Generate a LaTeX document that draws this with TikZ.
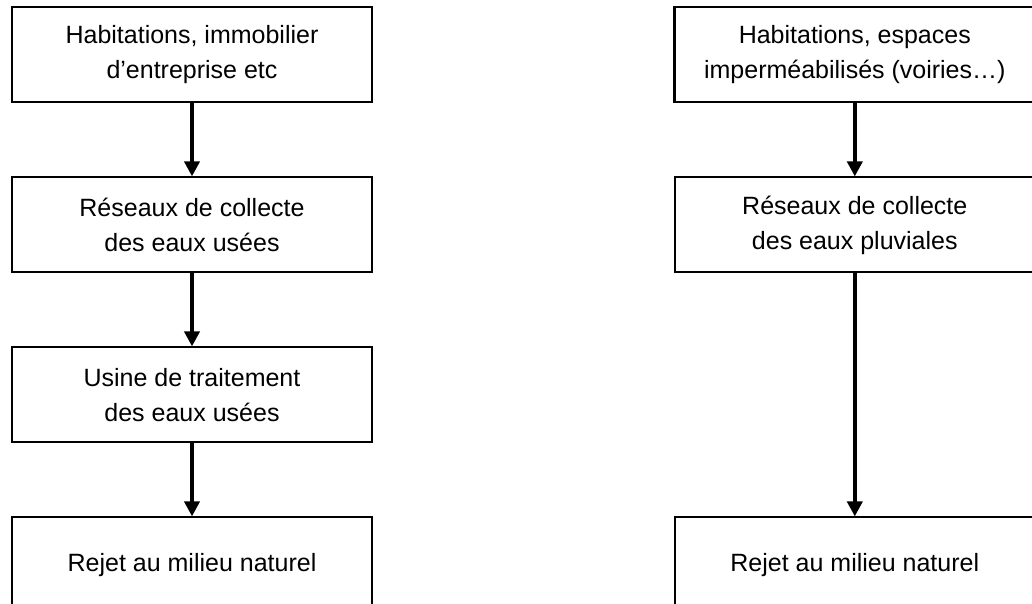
\documentclass[tikz,border=0pt]{standalone}
\usepackage{fontspec}
\setmainfont{Liberation Sans}
\usetikzlibrary{arrows.meta, positioning}

\tikzset{
  etape/.style={draw, line width=2pt, minimum width=360pt,
                minimum height=95pt, inner sep=0pt, align=center,
                font=\fontsize{25}{35}\selectfont},
  fleche/.style={line width=3.8pt, -{Triangle[width=15pt,length=15pt]}},
}

\begin{document}
\begin{tikzpicture}
    \useasboundingbox (0,0) rectangle (1032pt,-603pt);
    \clip (0,0) rectangle (1032pt,-603pt);
    % eaux usees
    \node[etape, line width=2.8pt] (habA) at (192pt,-54.5pt)
        {Habitations, immobilier\\d’entreprise etc};
    \node[etape, below=73pt of habA] (resA)
        {Réseaux de collecte\\des eaux usées};
    \node[etape, below=73pt of resA] (usine)
        {Usine de traitement\\des eaux usées};
    \node[etape, line width=1.6pt, below=73pt of usine] (rejetA)
        {Rejet au milieu naturel};
    % eaux pluviales
    \node[etape, line width=2.8pt, right=300pt of habA] (habB)
        {Habitations, espaces\\imperméabilisés (voiries…)};
    \node[etape, below=73pt of habB] (resB)
        {Réseaux de collecte\\des eaux pluviales};
    \node[etape, line width=1.6pt] (rejetB) at (rejetA -| resB)
        {Rejet au milieu naturel};
    \draw[fleche] (habA) -- (resA);
    \draw[fleche] (resA) -- (usine);
    \draw[fleche] (usine) -- (rejetA);
    \draw[fleche] (habB) -- (resB);
    \draw[fleche] (resB) -- (rejetB);
\end{tikzpicture}
\end{document}
